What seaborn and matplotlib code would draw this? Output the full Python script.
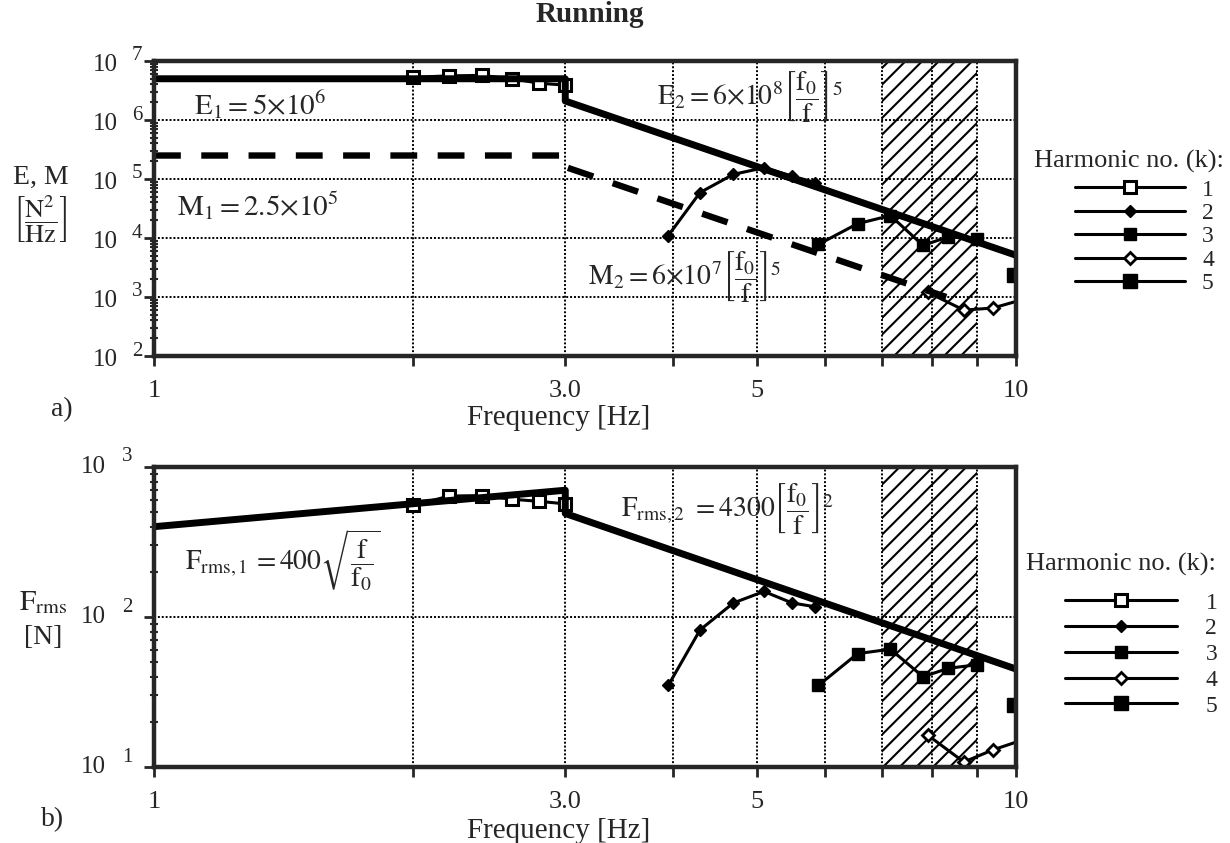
import matplotlib
matplotlib.use("Agg")
import matplotlib.pyplot as plt
import seaborn as sns
from matplotlib.lines import Line2D
from matplotlib.ticker import NullFormatter, FixedLocator

# ---------------- data ----------------
freq_h1 = [2.0, 2.2, 2.4, 2.6, 2.8, 3.0]
E_h1 = [5.3e6, 5.6e6, 5.7e6, 5.0e6, 4.2e6, 3.9e6]
F_h1 = [555, 640, 645, 610, 590, 568]

freq_h2 = [3.95, 4.3, 4.7, 5.1, 5.5, 5.85]
E_h2 = [1.1e4, 5.9e4, 1.2e5, 1.55e5, 1.12e5, 8.7e4]
F_h2 = [35, 82, 124, 148, 124, 117]

freq_h3 = [5.9, 6.55, 7.15, 7.8, 8.35, 9.0]
E_h3 = [7.8e3, 1.75e4, 2.4e4, 7.5e3, 1.05e4, 9.5e3]
F_h3 = [35, 57, 61, 40, 45.5, 48]

freq_h4 = [7.9, 8.7, 9.4, 10.3]
E_h4 = [1.2e3, 6.0e2, 6.5e2, 9.5e2]
F_h4 = [16.3, 10.8, 13.0, 15.5]

freq_h5 = [9.95]
E_h5 = [2.4e3]
F_h5 = [26]

# model lines (end points)
E_line_f = [1.0, 3.0, 3.0, 10.0]
E_line = [5.0e6, 5.0e6, 2.1e6, 5.1e3]
M_line_f = [1.0, 3.0, 3.0, 8.3]
M_line = [2.5e5, 2.5e5, 1.6e5, 1.0e3]
F_line_f = [1.0, 3.0, 3.0, 10.0]
F_line = [400, 700, 490, 45]

hatch_band = [7.0, 9.0]
x_major = [1, 3, 5, 10]
x_major_labels = ["1", "3.0", "5", "10"]
x_minor = [2, 4, 6, 7, 8, 9]
harmonic_labels = ["1", "2", "3", "4", "5"]

# ---------------- style ----------------
sns.set_style("ticks")
plt.rcParams["font.family"] = ["Liberation Serif", "DejaVu Serif"]
plt.rcParams["mathtext.fontset"] = "stix"
plt.rcParams["hatch.linewidth"] = 1.5

W, H = 1230, 843
fig = plt.figure(figsize=(W / 100, H / 100), dpi=100)


def rect(l, t, r, b):
    return [l / W, 1 - b / H, (r - l) / W, (b - t) / H]


ax1 = fig.add_axes(rect(154, 61, 1016, 356))
ax2 = fig.add_axes(rect(154, 467, 1016, 767))

styles = [
    dict(marker="s", markersize=8, markerfacecolor="white", markeredgecolor="black", markeredgewidth=2.2),
    dict(marker="D", markersize=6, markerfacecolor="black", markeredgecolor="black", markeredgewidth=1),
    dict(marker="s", markersize=9, markerfacecolor="black", markeredgecolor="black", markeredgewidth=1),
    dict(marker="D", markersize=6.5, markerfacecolor="white", markeredgecolor="black", markeredgewidth=2),
    dict(marker="s", markersize=9.5, markerfacecolor="black", markeredgecolor="black", markeredgewidth=1),
]

top_series = [(freq_h1, E_h1), (freq_h2, E_h2), (freq_h3, E_h3), (freq_h4, E_h4), (freq_h5, E_h5)]
bot_series = [(freq_h1, F_h1), (freq_h2, F_h2), (freq_h3, F_h3), (freq_h4, F_h4), (freq_h5, F_h5)]

for ax in (ax1, ax2):
    ax.set_xscale("log")
    ax.set_yscale("log")

ax1.set_xlim(1, 10)
ax1.set_ylim(1e2, 1e7)
ax2.set_xlim(1, 10)
ax2.set_ylim(1e1, 1e3)

for ax, series in ((ax1, top_series), (ax2, bot_series)):
    ax.axvspan(hatch_band[0], hatch_band[1], facecolor="none", edgecolor="black",
               hatch="//", linewidth=0, zorder=1)
    for (f, v), st in zip(series, styles):
        sns.lineplot(x=f, y=v, ax=ax, sort=False, estimator=None, color="black",
                     linewidth=2.2, zorder=4, **st)

sns.lineplot(x=E_line_f, y=E_line, ax=ax1, sort=False, estimator=None, color="black",
             linewidth=5, zorder=5)
sns.lineplot(x=M_line_f, y=M_line, ax=ax1, sort=False, estimator=None, color="black",
             linewidth=4.6, linestyle=(0, (4.2, 3.2)), zorder=5)
sns.lineplot(x=F_line_f, y=F_line, ax=ax2, sort=False, estimator=None, color="black",
             linewidth=5, zorder=5)

for ax, exps, off10, offexp, lab_y in ((ax1, range(2, 8), (-36, -4), (-22, 5), 418),
                                       (ax2, range(1, 4), (-48, 0), (-32, 10), 831)):
    ax.xaxis.set_major_locator(FixedLocator(x_major))
    ax.set_xticklabels(x_major_labels)
    ax.xaxis.set_minor_locator(FixedLocator(x_minor))
    ax.xaxis.set_minor_formatter(NullFormatter())
    ax.set_yticks([10.0 ** e for e in exps])
    ax.set_yticklabels([""] * len(exps))
    ax.yaxis.set_minor_formatter(NullFormatter())
    ax.grid(True, which="major", axis="y", color="black", linestyle=(0, (1, 1)), linewidth=1.4)
    ax.grid(True, which="both", axis="x", color="black", linestyle=(0, (1, 1)), linewidth=1.4)
    ax.set_axisbelow(False)
    for s in ax.spines.values():
        s.set_linewidth(3.2)
        s.set_zorder(6)
    ax.tick_params(axis="x", which="both", direction="out", length=7, width=2, labelsize=19, pad=10)
    ax.tick_params(axis="y", which="major", direction="out", length=7, width=2)
    ax.tick_params(axis="y", which="minor", direction="inout", length=6, width=1.5)
    ax.set_xlabel("Frequency [Hz]", fontsize=21)
    bb = ax.get_position()
    ax.xaxis.set_label_coords(0.469, (1 - lab_y / H - bb.y0) / bb.height)
    ax.xaxis.label.set_va("center")
    tr = ax.get_yaxis_transform()
    for e in exps:
        ax.annotate("10", xy=(0, 10.0 ** e), xycoords=tr,
                    xytext=(off10[0] * 0.72, off10[1] * 0.72), textcoords="offset points",
                    ha="right", va="center", fontsize=18)
        ax.annotate(str(e), xy=(0, 10.0 ** e), xycoords=tr,
                    xytext=(offexp[0] * 0.72, offexp[1] * 0.72), textcoords="offset points",
                    ha="left", va="center", fontsize=15)

# title and panel letters
fig.text(590 / W, 1 - 14 / H, "Running", ha="center", va="center", fontsize=21, fontweight="bold")
fig.text(62 / W, 1 - 410 / H, "a)", ha="center", va="center", fontsize=20)
fig.text(53 / W, 1 - 820 / H, "b)", ha="center", va="center", fontsize=20)

# y-axis labels
fig.text(41 / W, 1 - 177 / H, "E, M", ha="center", va="center", fontsize=20)
fig.text(40 / W, 1 - 220 / H, r"$\left[\dfrac{\mathrm{N^2}}{\mathrm{Hz}}\right]$",
         ha="center", va="center", fontsize=19)
fig.text(43 / W, 1 - 603 / H, r"$\mathrm{F_{rms}}$", ha="center", va="center", fontsize=21)
fig.text(43 / W, 1 - 638 / H, "[N]", ha="center", va="center", fontsize=20)

# formula annotations
fig.text(260 / W, 1 - 105 / H, r"$\mathrm{E_1{=}5{\times}10^6}$", ha="center", va="center", fontsize=21)
fig.text(258 / W, 1 - 206 / H, r"$\mathrm{M_1{=}2.5{\times}10^5}$", ha="center", va="center", fontsize=21)
fig.text(657 / W, 1 - 97 / H,
         r"$\mathrm{E_2{=}6{\times}10^8}\left[\dfrac{\mathrm{f_0}}{\mathrm{f}}\right]^5$",
         ha="left", va="center", fontsize=20)
fig.text(588 / W, 1 - 277 / H,
         r"$\mathrm{M_2{=}6{\times}10^7}\left[\dfrac{\mathrm{f_0}}{\mathrm{f}}\right]^5$",
         ha="left", va="center", fontsize=20)
fig.text(185 / W, 1 - 560 / H,
         r"$\mathrm{F_{rms,1}}\,{=}400\sqrt{\dfrac{\mathrm{f}}{\mathrm{f_0}}}$",
         ha="left", va="center", fontsize=20)
fig.text(621 / W, 1 - 508 / H,
         r"$\mathrm{F_{rms,2}}\ {=}4300\left[\dfrac{\mathrm{f_0}}{\mathrm{f}}\right]^2$",
         ha="left", va="center", fontsize=20)

# legends (title drawn as its own text, entries via legend)
fig.text(1129 / W, 1 - 161 / H, "Harmonic no. (k):", ha="center", va="center", fontsize=19)
fig.text(1121 / W, 1 - 564 / H, "Harmonic no. (k):", ha="center", va="center", fontsize=19)
handles = [Line2D([0], [0], color="black", linewidth=2.2, **st) for st in styles]
leg1 = ax1.legend(handles, harmonic_labels, loc="upper left",
                  bbox_to_anchor=(1075 / W, 1 - 179 / H), bbox_transform=fig.transFigure,
                  frameon=False, fontsize=17, handlelength=4.66,
                  handletextpad=0.72, labelspacing=0.08, borderpad=0, borderaxespad=0)
leg2 = ax2.legend(handles, harmonic_labels, loc="upper left",
                  bbox_to_anchor=(1065 / W, 1 - 592 / H), bbox_transform=fig.transFigure,
                  frameon=False, fontsize=17, handlelength=4.75,
                  handletextpad=1.2, labelspacing=0.18, borderpad=0, borderaxespad=0)

fig.savefig("out.png", dpi=100)
